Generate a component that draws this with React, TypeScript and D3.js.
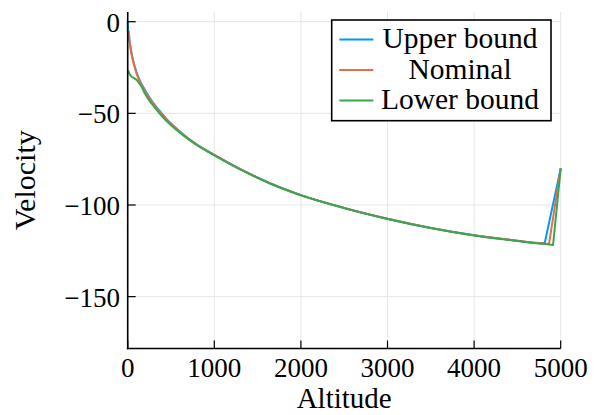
import React from 'react';
import * as d3 from 'd3';

// values (altitude ascending)
const upperAltitude = [0, 4, 15, 27, 50, 85, 120, 160, 215, 275, 350, 470, 560, 650, 800, 1000, 1300, 1650, 2000, 2500, 3000, 3500, 4000, 4500, 4700, 4815, 5000];
const upperVelocity = [0, -7, -9.5, -12.2, -18.6, -25, -30, -34, -38.5, -43, -47.6, -54.2, -58.1, -61.8, -67.1, -72.6, -80.4, -88.2, -94.6, -101.6, -107.5, -112.5, -116.5, -119.5, -120.6, -120.9, -80];

const nominalAltitude = [12, 20, 27, 50, 85, 120, 160, 215, 275, 350, 470, 560, 650, 800, 1000, 1300, 1650, 2000, 2500, 3000, 3500, 4000, 4500, 4700, 4865, 5000];
const nominalVelocity = [-5, -9, -12.7, -19, -25.5, -30.5, -34.5, -39, -43.5, -48, -54.5, -58.4, -62, -67.2, -72.7, -80.5, -88.3, -94.6, -101.6, -107.5, -112.5, -116.5, -119.5, -120.6, -121.3, -80];

const lowerAltitude = [5, 25, 46, 75, 104, 123, 160, 200, 275, 350, 470, 560, 650, 800, 1000, 1300, 1650, 2000, 2500, 3000, 3500, 4000, 4500, 4700, 4912, 5000];
const lowerVelocity = [-26.5, -28.8, -30, -30.8, -31.8, -33, -35.5, -39.3, -44.6, -49, -55.2, -58.9, -62.3, -67.4, -72.9, -80.6, -88.4, -94.7, -101.7, -107.6, -112.6, -116.6, -119.6, -120.8, -121.8, -80];

const seriesNames = ['Upper bound', 'Nominal', 'Lower bound'];
const seriesColors = ['#009AFA', '#E36F47', '#3EA44E'];

const xTicks = [0, 1000, 2000, 3000, 4000, 5000];
const yTicks = [0, -50, -100, -150];

const W = 599;
const H = 415;
const FONT = '"Liberation Serif", "Times New Roman", serif';

const App = () => {
  const left = 127.7;
  const right = 560.7;
  const top = 12;
  const bottom = 348.5;

  const x = d3.scaleLinear().domain([0, 5000]).range([left, right]);
  const y = d3.scaleLinear().domain([-178.3, 5.3]).range([bottom, top]);

  const smooth = d3
    .line<[number, number]>()
    .x((d) => x(d[0]))
    .y((d) => y(d[1]))
    .curve(d3.curveMonotoneX);

  const series = [
    d3.zip(upperAltitude, upperVelocity),
    d3.zip(nominalAltitude, nominalVelocity),
    d3.zip(lowerAltitude, lowerVelocity),
  ] as [number, number][][];

  // smooth descent body, then a straight kick up to the release point
  const pathFor = (s: [number, number][]) => {
    const last = s[s.length - 1];
    return (smooth(s.slice(0, -1)) || '') + `L${x(last[0])},${y(last[1])}`;
  };

  const fmt = (v: number) => (v < 0 ? '\u2212' + Math.abs(v) : String(v));

  return (
    <svg
      width={W}
      height={H}
      style={{ position: 'absolute', left: 0, top: 0, background: '#fff' }}
      fontFamily={FONT}
    >
      {/* grid */}
      <g stroke="#e6e6e6" strokeWidth={1}>
        {xTicks.map((t) => (
          <line key={'gx' + t} x1={x(t)} x2={x(t)} y1={top} y2={bottom} />
        ))}
        {yTicks.map((t) => (
          <line key={'gy' + t} x1={left} x2={right} y1={y(t)} y2={y(t)} />
        ))}
      </g>

      {/* series */}
      {series.map((s, i) => (
        <path
          key={seriesNames[i]}
          d={pathFor(s)}
          fill="none"
          stroke={seriesColors[i]}
          strokeWidth={2}
          strokeLinejoin="round"
        />
      ))}

      {/* axes */}
      <g stroke="#000" strokeWidth={1.6}>
        <line x1={left} x2={left} y1={top} y2={bottom + 0.8} />
        <line x1={left - 0.8} x2={right} y1={bottom} y2={bottom} />
        {xTicks.map((t) => (
          <line key={'tx' + t} x1={x(t)} x2={x(t)} y1={bottom} y2={bottom - 8} strokeWidth={1.2} />
        ))}
        {yTicks.map((t) => (
          <line key={'ty' + t} x1={left} x2={left + 8} y1={y(t)} y2={y(t)} strokeWidth={1.2} />
        ))}
      </g>

      {/* tick labels */}
      <g fontSize={27} fill="#000">
        {xTicks.map((t) => (
          <text key={'lx' + t} x={x(t)} y={377} textAnchor="middle">
            {fmt(t)}
          </text>
        ))}
        {yTicks.map((t) => (
          <text key={'ly' + t} x={120} y={y(t) + 10} textAnchor="end">
            {fmt(t)}
          </text>
        ))}
      </g>

      {/* axis titles */}
      <text x={(left + right) / 2} y={408} textAnchor="middle" fontSize={29}>
        Altitude
      </text>
      <text transform={`translate(35, ${(top + bottom) / 2}) rotate(-90)`} textAnchor="middle" fontSize={30}>
        Velocity
      </text>

      {/* legend */}
      <rect x={331.7} y={20} width={219.3} height={100.7} fill="#fff" stroke="#000" strokeWidth={1.6} />
      {seriesNames.map((name, i) => {
        const ly = 39.5 + i * 30.5;
        return (
          <g key={'lg' + name}>
            <line x1={339.3} x2={373.3} y1={ly} y2={ly} stroke={seriesColors[i]} strokeWidth={2} />
            <text x={460} y={ly + 8.5} textAnchor="middle" fontSize={29.5}>
              {name}
            </text>
          </g>
        );
      })}
    </svg>
  );
};

export default App;
